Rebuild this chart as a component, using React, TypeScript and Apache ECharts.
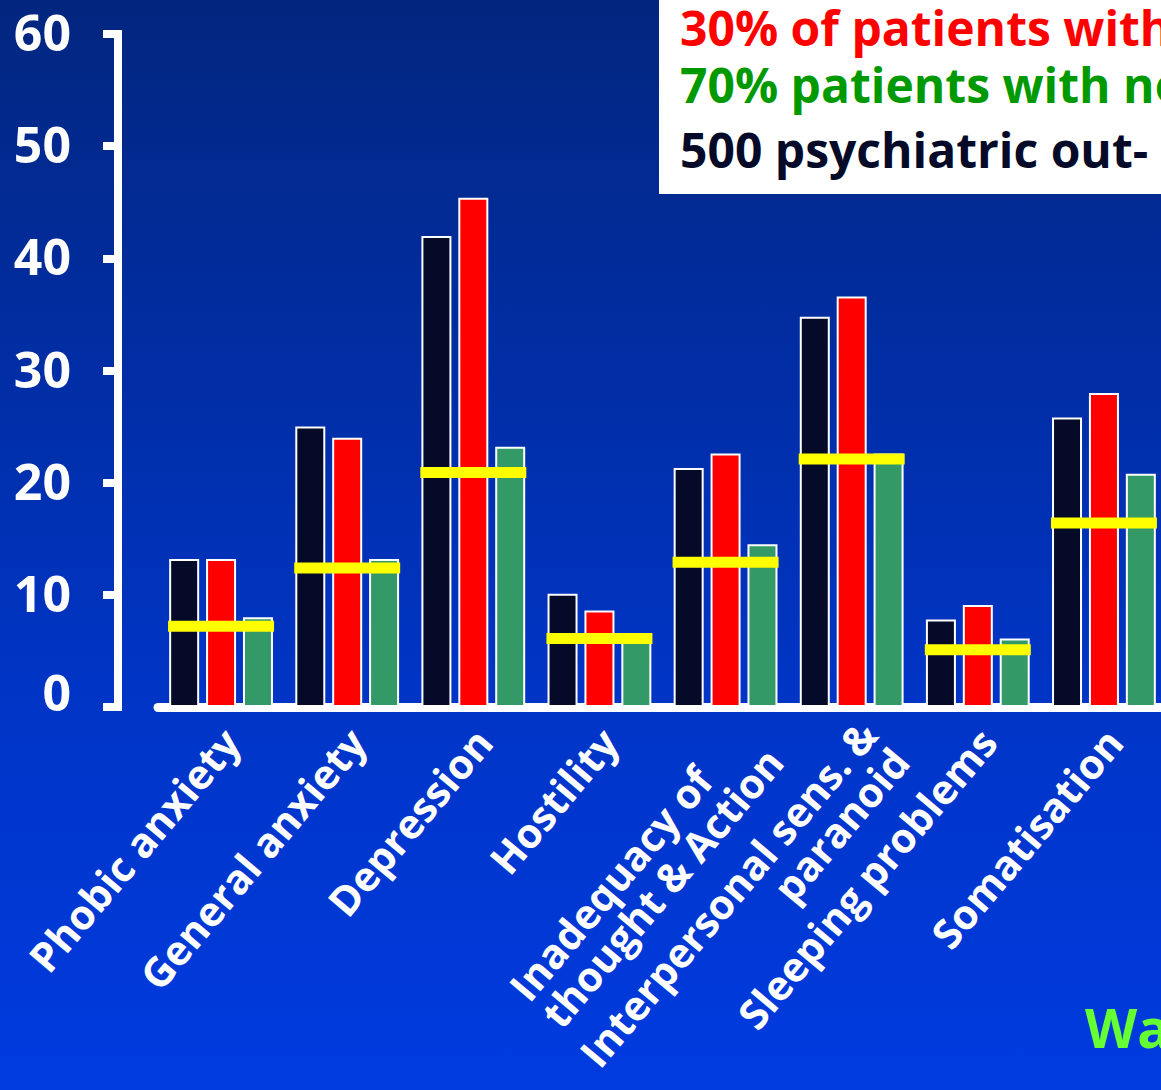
import { useEffect, useRef } from "react";
import * as echarts from "echarts";

// Symptom dimensions along the x axis
const categories = [
  "Phobic anxiety",
  "General anxiety",
  "Depression",
  "Hostility",
  "Inadequacy of\nthought & Action",
  "Interpersonal sens. &\nparanoid",
  "Sleeping problems",
  "Somatisation",
];

// Mean scores per group
const allOutpatients = [13.2, 25.0, 42.0, 10.1, 21.3, 34.8, 7.8, 25.8];
const subgroup30 = [13.2, 24.0, 45.4, 8.6, 22.6, 36.6, 9.1, 28.0];
const subgroup70 = [8.0, 13.2, 23.2, 6.2, 14.5, 22.6, 6.1, 20.8];
// Reference level shown as a yellow bar across each group
const referenceLevel = [7.2, 12.4, 20.9, 6.1, 12.9, 22.1, 5.1, 16.4];

// Value axis range
const yMin = 0;
const yMax = 60;
const yStep = 10;

// Key lines in the top-right box
const keyLines = [
  { text: "30% of patients with", color: "#ff0000" },
  { text: "70% patients with no", color: "#009900" },
  { text: "500 psychiatric out-", color: "#050a28" },
];
const footnote = "Wa";

const FONT = "'Open Sans', sans-serif";
const X_LABEL_SIZE = 41;
const Y_LABEL_SIZE = 50;

export default function App() {
  const ref = useRef<HTMLDivElement>(null);

  useEffect(() => {
    if (!ref.current) return;
    const chart = echarts.init(ref.current, undefined, { renderer: "svg" });

    const leftAligned = new Set(["Inadequacy of\nthought & Action"]);

    const labelFont = {
      color: "#ffffff",
      fontFamily: FONT,
      fontWeight: "bold",
      fontSize: X_LABEL_SIZE,
      lineHeight: 42,
      verticalAlign: "top",
    };

    // two-line labels sit a little further along their slant
    const axisData = categories.map((c) =>
      c.includes("\n")
        ? { value: c, textStyle: { ...labelFont, padding: [0, 0, 0, 0] } }
        : c
    );

    const keyTexts = keyLines.map((line, i) => ({
      type: "text",
      x: 680,
      y: [27, 84, 149][i],
      z: 20,
      style: {
        text: line.text,
        fill: line.color,
        fontFamily: FONT,
        fontWeight: "bold",
        fontSize: 48,
        verticalAlign: "middle",
        textVerticalAlign: "middle",
      },
    }));

    chart.setOption({
      animation: false,
      backgroundColor: new echarts.graphic.LinearGradient(0, 0, 0, 1, [
        { offset: 0, color: "#02267f" },
        { offset: 0.62, color: "#0034c4" },
        { offset: 1, color: "#003be0" },
      ]),
      grid: {
        left: 158,
        top: 34,
        width: 1009,
        bottom: 383,
        outerBoundsMode: "none",
        containLabel: false,
      },
      xAxis: {
        type: "category",
        data: axisData,
        offset: 5,
        axisLine: { show: true, lineStyle: { color: "#ffffff", width: 9 } },
        axisTick: { show: false },
        splitLine: { show: false },
        axisLabel: {
          ...labelFont,
          interval: 0,
          rotate: 50,
          margin: 1,
          padding: [0, 10, 0, 0],
          hideOverlap: false,
          formatter: (v: string) =>
            leftAligned.has(v)
              ? v
                  .split("\n")
                  .map((s) => `{l|${s}}`)
                  .join("\n")
              : v,
          rich: {
            l: {
              align: "left",
              color: "#ffffff",
              fontFamily: FONT,
              fontWeight: "bold",
              fontSize: X_LABEL_SIZE,
              lineHeight: 42,
            },
          },
        },
      },
      yAxis: {
        type: "value",
        min: yMin,
        max: yMax,
        interval: yStep,
        position: "left",
        offset: 40,
        axisLine: {
          show: true,
          lineStyle: { color: "#ffffff", width: 8, cap: "square" },
        },
        axisTick: {
          show: true,
          length: 15,
          lineStyle: { color: "#ffffff", width: 8 },
        },
        splitLine: { show: false },
        axisLabel: {
          color: "#ffffff",
          fontFamily: FONT,
          fontWeight: "bold",
          fontSize: Y_LABEL_SIZE,
          margin: 47,
          padding: [0, 0, 4, 0],
          // the zero sits a little above its tick, clear of the x axis
          formatter: (v: number) => (v === 0 ? "{z|0}" : String(v)),
          rich: {
            z: {
              color: "#ffffff",
              fontFamily: FONT,
              fontWeight: "bold",
              fontSize: Y_LABEL_SIZE,
              padding: [0, 0, 26, 0],
            },
          },
        },
      },
      series: [
        {
          name: "500 psychiatric out-patients",
          type: "bar",
          data: allOutpatients,
          barWidth: 30,
          barGap: "23%",
          itemStyle: { color: "#050a28", borderColor: "#ffffff", borderWidth: 2 },
        },
        {
          name: "30% of patients",
          type: "bar",
          data: subgroup30,
          barWidth: 30,
          barGap: "23%",
          itemStyle: { color: "#ff0000", borderColor: "#ffffff", borderWidth: 2 },
        },
        {
          name: "70% of patients",
          type: "bar",
          data: subgroup70,
          barWidth: 30,
          barGap: "23%",
          itemStyle: { color: "#339966", borderColor: "#ffffff", borderWidth: 2 },
        },
        {
          name: "Reference",
          type: "scatter",
          data: referenceLevel,
          symbol: "rect",
          symbolSize: [106, 11],
          z: 5,
          itemStyle: { color: "#ffff00", opacity: 1 },
        },
      ],
      graphic: [
        {
          type: "rect",
          z: 10,
          shape: { x: 659, y: 0, width: 520, height: 194 },
          style: { fill: "#ffffff" },
        },
        ...keyTexts,
        {
          type: "text",
          x: 1085,
          y: 1027,
          z: 20,
          style: {
            text: footnote,
            fill: "#66ff33",
            fontFamily: FONT,
            fontWeight: "bold",
            fontSize: 54,
            verticalAlign: "middle",
            textVerticalAlign: "middle",
          },
        },
      ],
    });

    return () => chart.dispose();
  }, []);

  return (
    <div
      ref={ref}
      style={{ position: "fixed", left: 0, top: 0, width: 1161, height: 1090 }}
    />
  );
}
